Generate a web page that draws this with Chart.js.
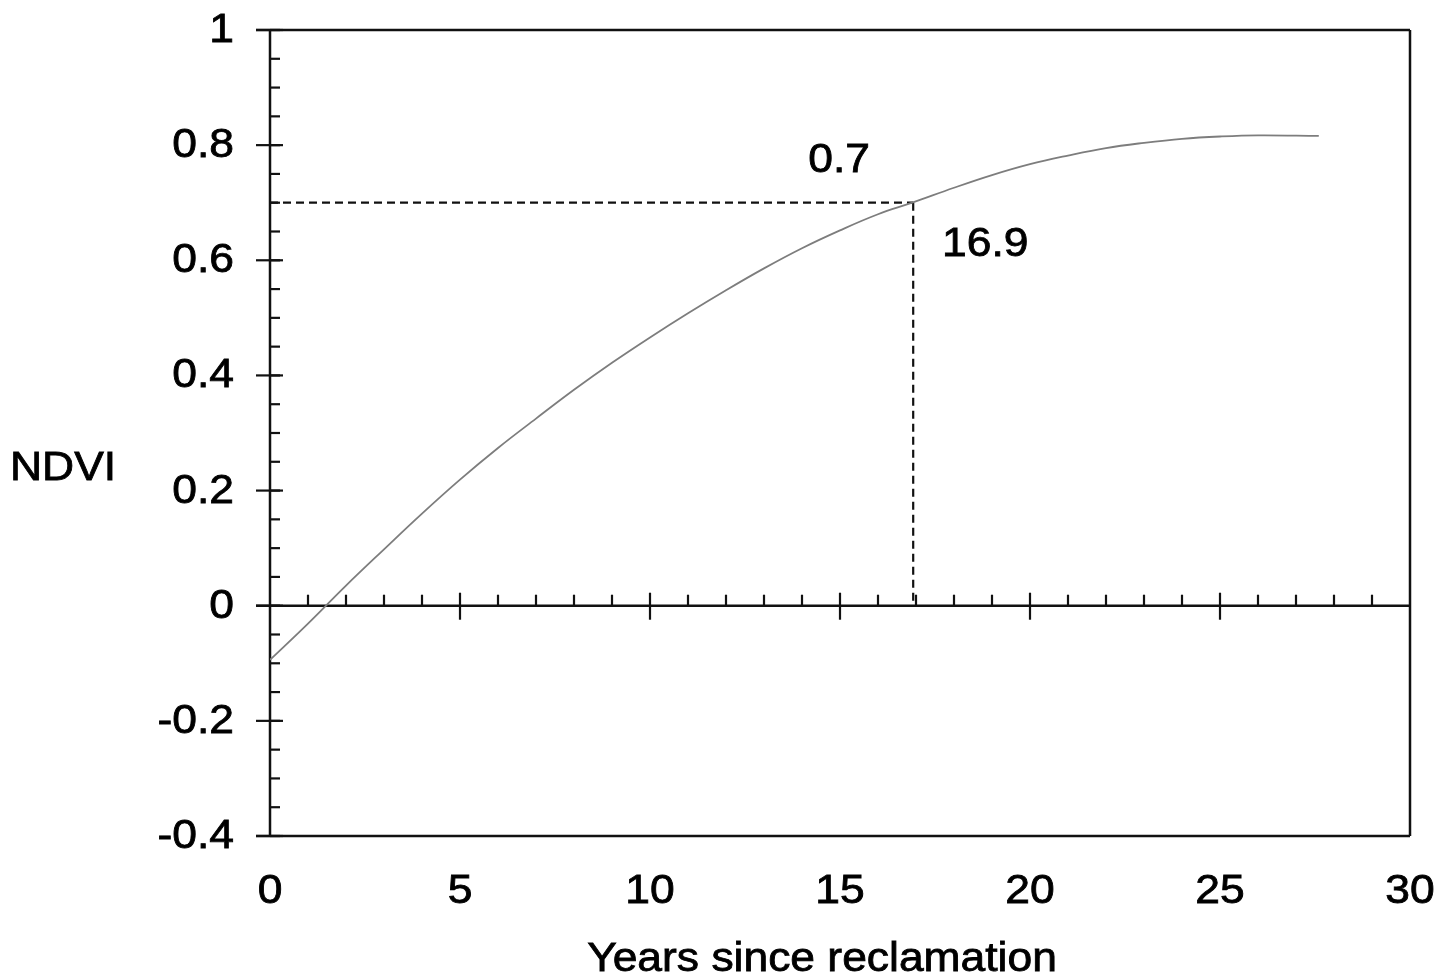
<!DOCTYPE html>
<html>
<head>
<meta charset="utf-8">
<script src="https://cdn.jsdelivr.net/npm/chart.js@4/dist/chart.umd.min.js"></script>
<style>
  html, body { margin: 0; padding: 0; background: #ffffff; }
  #wrap { width: 1452px; height: 980px; }
</style>
</head>
<body>
<div id="wrap"><canvas id="ndviChart" width="1452" height="980"></canvas></div>
<script>
// Values
const years = [0, 1, 2, 3, 4, 5, 6, 7, 8, 9, 10, 11, 12, 13, 14, 15, 16, 16.9, 18, 19, 20, 21, 22, 23, 24, 25, 26, 27.6];
const ndvi = [-0.094, -0.031, 0.035, 0.098, 0.160, 0.219, 0.274, 0.325, 0.375, 0.422, 0.466, 0.508, 0.548, 0.586, 0.621, 0.652, 0.680, 0.700, 0.726, 0.748, 0.767, 0.782, 0.795, 0.804, 0.811, 0.815, 0.817, 0.816];

const xTicks = [0, 5, 10, 15, 20, 25, 30];
const xTickLabels = ['0', '5', '10', '15', '20', '25', '30'];
const yTicks = [-0.4, -0.2, 0, 0.2, 0.4, 0.6, 0.8, 1];
const yTickLabels = ['-0.4', '-0.2', '0', '0.2', '0.4', '0.6', '0.8', '1'];

const markYear = 16.9;
const markNdvi = 0.7;
const markYearLabel = '16.9';
const markNdviLabel = '0.7';

const xTitle = 'Years since reclamation';
const yTitle = 'NDVI';

const FONT = '40px "Liberation Sans", Arial, sans-serif';
const STRETCH = 1.11; // text in the picture is a bit wider than plain Arial

// draw text stretched horizontally around its anchor point
const drawText = (ctx, text, x, y, align) => {
    ctx.save();
    ctx.translate(x, y);
    ctx.scale(STRETCH, 1);
    ctx.textAlign = align;
    ctx.textBaseline = 'middle';
    ctx.lineWidth = 0.8;
    ctx.strokeStyle = '#000000';
    ctx.fillText(text, 0, 0);
    ctx.strokeText(text, 0, 0); // slightly heavier glyphs, like the scan
    ctx.restore();
};

const line = (ctx, x1, y1, x2, y2) => {
    ctx.beginPath();
    ctx.moveTo(x1, y1);
    ctx.lineTo(x2, y2);
    ctx.stroke();
};

// Axes, ticks, frame, guide lines and labels
const axesPlugin = {
    id: 'axesPlugin',
    beforeDatasetsDraw(chart) {
        const { ctx, chartArea, scales } = chart;
        const xs = scales.x, ys = scales.y;
        const { left, right, top, bottom } = chartArea;
        const y0 = ys.getPixelForValue(0);

        ctx.save();
        ctx.strokeStyle = '#111111';
        ctx.lineCap = 'butt';

        // dashed guide lines to the marked point
        ctx.lineWidth = 2.2;
        ctx.setLineDash([8, 5]);
        const mx = xs.getPixelForValue(markYear) + 1;
        const my = ys.getPixelForValue(markNdvi);
        line(ctx, left, my, mx, my);
        line(ctx, mx, my, mx, y0);
        ctx.setLineDash([]);

        // y ticks: major every 0.2, minor every 0.05
        ctx.lineWidth = 2.2;
        for (let v = -0.4; v <= 1.0001; v += 0.05) {
            const p = ys.getPixelForValue(v);
            line(ctx, left, p, left + 10, p);
        }
        yTicks.forEach(v => {
            const p = ys.getPixelForValue(v);
            line(ctx, left - 14, p, left + 13, p);
        });

        // x ticks on the zero line: minor every year, major every 5
        for (let t = 1; t < 30; t++) {
            const p = xs.getPixelForValue(t);
            if (t % 5 === 0) {
                line(ctx, p, y0 - 13, p, y0 + 14);
            } else {
                line(ctx, p, y0 - 11, p, y0);
            }
        }

        // frame and zero line
        ctx.lineWidth = 2.5;
        line(ctx, left - 14, top, right, top);
        line(ctx, left - 14, bottom, right, bottom);
        line(ctx, left - 14, y0, right, y0);
        line(ctx, left, top, left, bottom);
        line(ctx, right, top, right, bottom);

        // tick labels
        ctx.fillStyle = '#000000';
        ctx.font = FONT;
        yTicks.forEach((v, i) => {
            drawText(ctx, yTickLabels[i], left - 36, ys.getPixelForValue(v) + 1, 'right');
        });
        xTicks.forEach((v, i) => {
            drawText(ctx, xTickLabels[i], xs.getPixelForValue(v), bottom + 56, 'center');
        });

        // axis titles
        drawText(ctx, yTitle, 10, 469, 'left');
        drawText(ctx, xTitle, 822, 960, 'center');

        // values at the marked point
        drawText(ctx, markNdviLabel, mx - 74, my - 42, 'center');
        drawText(ctx, markYearLabel, mx + 72, my + 42, 'center');

        ctx.restore();
    }
};

document.addEventListener('DOMContentLoaded', () => {
    const ctx = document.querySelector('#ndviChart').getContext('2d');

    new Chart(ctx, {
        type: 'line',
        data: {
            datasets: [
                {
                    label: 'NDVI',
                    data: years.map((t, i) => ({ x: t, y: ndvi[i] })),
                    borderColor: '#7d7d7d',
                    borderWidth: 1.8,
                    pointRadius: 0,
                    fill: false,
                    tension: 0.4
                }
            ]
        },
        options: {
            responsive: false,
            animation: false,
            devicePixelRatio: 1,
            layout: {
                padding: { left: 270, right: 42, top: 30, bottom: 144 }
            },
            scales: {
                x: { type: 'linear', min: 0, max: 30, display: false },
                y: { type: 'linear', min: -0.4, max: 1, display: false }
            },
            plugins: {
                legend: { display: false },
                tooltip: { enabled: false }
            }
        },
        plugins: [axesPlugin]
    });
});
</script>
</body>
</html>
